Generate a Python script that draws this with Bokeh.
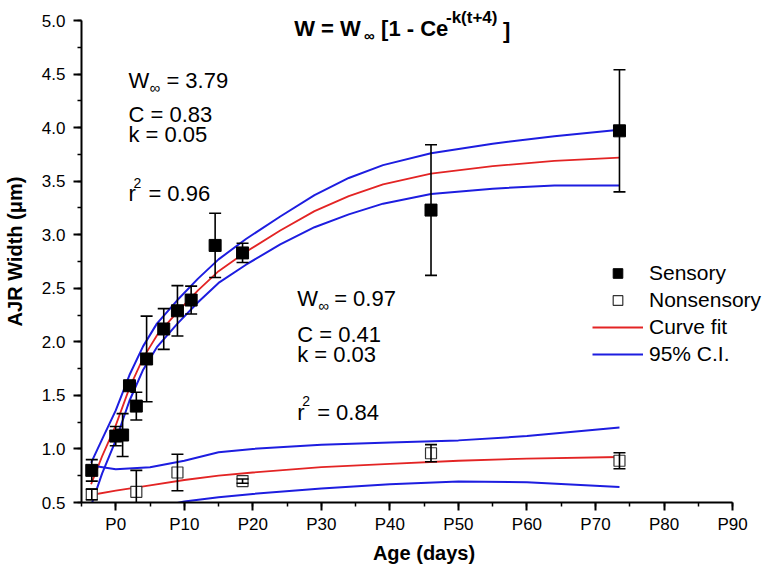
from bokeh.plotting import figure
from bokeh.models import (ColumnDataSource, Whisker, TeeHead, Label, Legend, LegendItem,
                          SingleIntervalTicker, CustomJSTickFormatter, NumeralTickFormatter)
from bokeh.embed import file_html
from bokeh.resources import INLINE

# ---------------- data ----------------
sens_age = [-3.5, 0, 1, 2, 3, 4.5, 7, 9, 11, 14.5, 18.5, 46, 73.5]
sens_width = [0.80, 1.12, 1.13, 1.59, 1.40, 1.84, 2.12, 2.29, 2.39, 2.90, 2.83, 3.23, 3.97]
sens_err = [0.10, 0.09, 0.20, 0.03, 0.13, 0.40, 0.19, 0.235, 0.13, 0.30, 0.09, 0.61, 0.57]

non_age = [-3.5, 3, 9, 18.5, 46, 73.5]
non_width = [0.575, 0.60, 0.78, 0.70, 0.96, 0.89]
non_err = [0.05, 0.20, 0.17, 0.02, 0.08, 0.075]

sens_curve_age = [-3.6, -2, 0, 2, 4, 6, 9, 12, 15, 19, 24, 29, 34, 39, 46, 55, 64, 73.5]
sens_fit = [0.67, 0.93, 1.22, 1.57, 1.85, 2.06, 2.28, 2.48, 2.66, 2.84, 3.04, 3.22, 3.36, 3.47, 3.57, 3.64, 3.69, 3.72]
sens_ci_hi = [0.87, 1.09, 1.36, 1.69, 1.96, 2.17, 2.39, 2.59, 2.77, 2.96, 3.17, 3.37, 3.53, 3.65, 3.76, 3.85, 3.92, 3.98]
sens_ci_lo = [0.47, 0.77, 1.08, 1.45, 1.74, 1.95, 2.17, 2.37, 2.55, 2.72, 2.91, 3.07, 3.19, 3.29, 3.38, 3.43, 3.46, 3.46]

non_curve_age = [-3.6, 0, 5, 10, 15, 20, 30, 40, 50, 60, 73.5]
non_fit = [0.57, 0.61, 0.66, 0.71, 0.75, 0.78, 0.83, 0.86, 0.89, 0.91, 0.925]
non_ci_hi = [0.845, 0.81, 0.83, 0.89, 0.97, 1.00, 1.04, 1.06, 1.08, 1.12, 1.20]
non_ci_lo = [0.28, 0.36, 0.44, 0.51, 0.55, 0.58, 0.63, 0.67, 0.695, 0.69, 0.645]

legend_labels = ["Sensory", "Nonsensory", "Curve fit", "95% C.I."]

x_ticks_every = 10
y_ticks_every = 0.5
X0, X1, Y0, Y1 = -5, 90, 0.5, 5.0

RED = "#e32424"
BLUE = "#1d1de0"
FONT = "Liberation Sans"

W, H = 766, 575
# axis placement in page pixels (axes end at P90 and 5.0)
FL, FR, FT, FB = 80, 732, 20, 502


def dx(px):
    return X0 + (px - FL) * (X1 - X0) / (FR - FL)


def dy(py):
    return Y0 + (FB - py) * (Y1 - Y0) / (FB - FT)


# the frame spans to the right and top edges so texts there are not clipped;
# the axes themselves are bounded to the data extent
p = figure(width=W, height=H, x_range=(X0, dx(W)), y_range=(Y0, dy(0)),
           output_backend="svg", toolbar_location=None,
           min_border_left=FL, min_border_right=0,
           min_border_top=0, min_border_bottom=H - FB)
p.outline_line_color = None
p.xgrid.visible = False
p.ygrid.visible = False
p.background_fill_color = "white"
p.border_fill_color = "white"

# axes
p.xaxis.ticker = SingleIntervalTicker(interval=x_ticks_every, num_minor_ticks=2)
p.yaxis.ticker = SingleIntervalTicker(interval=y_ticks_every, num_minor_ticks=2)
p.xaxis.bounds = (X0, X1)
p.yaxis.bounds = (Y0, Y1)
p.xaxis.formatter = CustomJSTickFormatter(code="return 'P' + tick.toFixed(0);")
p.yaxis.formatter = NumeralTickFormatter(format="0.0")
for ax in (p.xaxis[0], p.yaxis[0]):
    ax.axis_line_width = 2
    ax.axis_line_color = "black"
    ax.major_tick_line_width = 2
    ax.minor_tick_line_width = 1.5
    ax.major_tick_out = 8
    ax.major_tick_in = 0
    ax.minor_tick_out = 4
    ax.minor_tick_in = 0
    ax.major_label_text_font = FONT
    ax.major_label_text_font_size = "17px"
    ax.major_label_text_color = "black"
    ax.axis_label_text_font = FONT
    ax.axis_label_text_font_size = "20px"
    ax.axis_label_text_font_style = "bold"
    ax.axis_label_text_color = "black"
p.xaxis.axis_label = "Age (days)"
p.yaxis.axis_label = "AJR Width (μm)"
p.xaxis.major_label_standoff = 4
p.xaxis.axis_label_standoff = 5
p.yaxis.major_label_standoff = 8
p.yaxis.axis_label_standoff = 13

# curves
sc = ColumnDataSource(dict(t=sens_curve_age, fit=sens_fit, hi=sens_ci_hi, lo=sens_ci_lo))
nc = ColumnDataSource(dict(t=non_curve_age, fit=non_fit, hi=non_ci_hi, lo=non_ci_lo))
r_fit = p.line("t", "fit", source=sc, line_color=RED, line_width=1.8, line_join="round")
r_ci = p.line("t", "hi", source=sc, line_color=BLUE, line_width=2, line_join="round")
p.line("t", "lo", source=sc, line_color=BLUE, line_width=2, line_join="round")
p.line("t", "fit", source=nc, line_color=RED, line_width=1.8, line_join="round")
p.line("t", "hi", source=nc, line_color=BLUE, line_width=2, line_join="round")
p.line("t", "lo", source=nc, line_color=BLUE, line_width=2, line_join="round")

# error bars
ss = ColumnDataSource(dict(x=sens_age, y=sens_width,
                           up=[a + b for a, b in zip(sens_width, sens_err)],
                           dn=[a - b for a, b in zip(sens_width, sens_err)]))
ns = ColumnDataSource(dict(x=non_age, y=non_width,
                           up=[a + b for a, b in zip(non_width, non_err)],
                           dn=[a - b for a, b in zip(non_width, non_err)]))
for src in (ss, ns):
    w = Whisker(base="x", upper="up", lower="dn", source=src, line_color="black", line_width=1.6,
                upper_head=TeeHead(size=12, line_width=1.6, line_color="black"),
                lower_head=TeeHead(size=12, line_width=1.6, line_color="black"))
    w.level = "glyph"
    p.add_layout(w)

r_sens = p.scatter("x", "y", source=ss, marker="square", size=12, fill_color="black", line_color="black")
r_non = p.scatter("x", "y", source=ns, marker="square", size=11, fill_color="white", line_color="#333333",
                  line_width=1.2)

# legend
ROW_TOP = 261  # page px of the legend's top edge
ROWH, GAP = 24, 3
legend = Legend(items=[LegendItem(label=lab, renderers=[r])
                       for lab, r in zip(legend_labels, (r_sens, r_non, r_fit, r_ci))],
                location=(591 - FL, FB - (ROW_TOP + 4 * ROWH + 3 * GAP)), orientation="vertical",
                padding=0, margin=0, spacing=GAP, glyph_width=51, glyph_height=ROWH,
                label_height=ROWH, label_standoff=6,
                label_text_font=FONT, label_text_font_size="21px", label_text_color="black",
                border_line_alpha=0, background_fill_alpha=0)
p.add_layout(legend)


def txt(text, px, py, size, style="normal", baseline="alphabetic"):
    p.add_layout(Label(x=dx(px), y=dy(py), text=text, text_font=FONT, text_font_size=size,
                       text_font_style=style, text_color="black", text_baseline=baseline,
                       text_align="left"))


# title W = W∞ [1 - Ce^{-k(t+4)}]
txt("W = W", 293, 28, "22px", "bold")
txt("∞", 363, 35, "15px", "bold")
txt("[1 - Ce", 380, 28, "22px", "bold")
txt("-k(t+4)", 445, 17, "17px", "bold")
txt("]", 502, 30, "22px", "bold")

# fit parameters, sensory
txt("W", 127, 80, "22px")
txt("∞", 148, 87, "15px")
txt("= 3.79", 165, 80, "22px")
txt("C = 0.83", 127, 114, "22px")
txt("k = 0.05", 127, 134, "22px")
txt("r", 127, 193, "22px")
txt("2", 132, 182, "14px")
txt("= 0.96", 147, 193, "22px")

# fit parameters, nonsensory
txt("W", 296, 298, "22px")
txt("∞", 317, 305, "15px")
txt("= 0.97", 333, 298, "22px")
txt("C = 0.41", 296, 334, "22px")
txt("k = 0.03", 296, 354, "22px")
txt("r", 296, 412, "22px")
txt("2", 301, 400, "14px")
txt("= 0.84", 316, 412, "22px")

open("out.html", "w").write(file_html(p, INLINE))
